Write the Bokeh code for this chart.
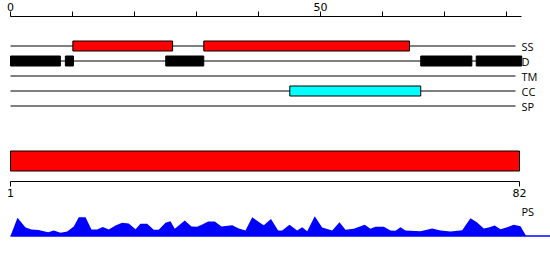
from bokeh.plotting import figure
from bokeh.models import Range1d, LinearAxis, FixedTicker
from bokeh.embed import file_html
from bokeh.resources import INLINE
from bokeh.core.properties import value

# ---------------- data ----------------
seq_len = 82
axis_ticks = [0, 10, 20, 30, 40, 50, 60, 70, 80]
axis_labelled = [0, 50]
seq_ticks = [1, 82]

track_names = ["SS", "D", "TM", "CC", "SP"]

ss_start = [11, 32]
ss_end = [27, 65]

d_start = [1, 9.8, 25.9, 66.8, 75.7]
d_end = [9, 11.1, 32, 75, 83]

cc_start = [45.8]
cc_end = [66.8]

ps_x = [1.0, 2.12, 3.41, 4.37, 5.49, 7.05, 7.94, 9.02, 10.09, 11.15, 11.95, 13.03,
        13.99, 14.9, 15.8, 16.77, 17.84, 18.91, 19.97, 21.05, 21.85, 22.92, 23.98,
        24.78, 25.86, 26.66, 27.35, 28.95, 30.03, 30.94, 31.75, 32.71, 33.77, 34.84,
        36.56, 37.62, 38.69, 39.77, 40.94, 41.63, 42.78, 43.93, 44.58, 45.75, 46.98,
        47.78, 48.59, 49.8, 50.99, 52.6, 53.77, 54.73, 56.06, 57.82, 58.74, 59.54,
        60.87, 61.95, 62.75, 63.55, 64.35, 66.76, 68.63, 69.97, 71.57, 73.45, 74.78,
        75.85, 76.91, 77.71, 78.67, 79.59, 80.66, 81.72, 82.8, 83.71]
ps_y = [0.0, 0.91, 0.43, 0.33, 0.30, 0.19, 0.28, 0.16, 0.23, 0.48, 0.94, 0.94,
        0.33, 0.33, 0.45, 0.33, 0.53, 0.66, 0.63, 0.34, 0.61, 0.61, 0.31,
        0.31, 0.66, 0.74, 0.36, 0.78, 0.48, 0.46, 0.58, 0.73, 0.73, 0.48,
        0.54, 0.38, 0.28, 0.94, 0.68, 0.54, 0.85, 0.28, 0.28, 0.56, 0.28,
        0.44, 0.24, 0.99, 0.43, 0.28, 0.69, 0.31, 0.36, 0.56, 0.36, 0.46,
        0.46, 0.28, 0.26, 0.44, 0.28, 0.24, 0.38, 0.28, 0.23, 0.29, 0.89,
        0.68, 0.38, 0.43, 0.53, 0.34, 0.44, 0.56, 0.49, 0.0]

# ---------------- layout ----------------
W, H = 550, 260
X0 = 10            # pixel of first position
AX_PX = 6.2        # px per unit, top ruler
SEQ_PX = 509 / 81  # px per unit, bottom ruler
TRK_PX = 505 / 81  # px per unit, feature tracks
track_y0, track_dy, half_h = 45.5, 15, 5
ruler_top_y = 15.5
bar_top, bar_bot = 150.5, 170.5
ruler_bot_y = 180.5
ps_base_px = 235.5
ps_scale = 20.0    # px per PS unit
ps_label_y = 211

p = figure(width=W, height=H,
           x_range=Range1d(-X0 / AX_PX, (W - X0) / AX_PX),
           y_range=Range1d(H, 0),
           x_axis_type=None, y_axis_type=None,
           toolbar_location=None, output_backend="svg",
           min_border=0, outline_line_color=None,
           background_fill_color="white", border_fill_color="white")
p.extra_x_ranges = {
    "seq": Range1d(1 - X0 / SEQ_PX, 1 + (W - X0) / SEQ_PX),
    "track": Range1d(1 - X0 / TRK_PX, 1 + (W - X0) / TRK_PX),
}
p.extra_y_ranges = {"ps": Range1d(-(H - ps_base_px) / ps_scale, ps_base_px / ps_scale)}

axis_style = dict(axis_line_color="black", axis_line_width=1,
                  major_tick_line_color="black", major_tick_in=0, major_tick_out=5,
                  minor_tick_in=0, minor_tick_out=0,
                  major_label_text_font="DejaVu Sans", major_label_text_font_size="11px",
                  major_label_text_color="black")

top_axis = LinearAxis(fixed_location=ruler_top_y,
                      ticker=FixedTicker(ticks=axis_ticks),
                      major_label_overrides={t: (str(t) if t in axis_labelled else "") for t in axis_ticks},
                      bounds=(0, 82.4), major_label_standoff=0,
                      major_label_text_align="left", **axis_style)
p.add_layout(top_axis, "above")

bot_axis = LinearAxis(x_range_name="seq", fixed_location=ruler_bot_y,
                      ticker=FixedTicker(ticks=seq_ticks),
                      bounds=(1, seq_len), major_label_standoff=3, **axis_style)
p.add_layout(bot_axis, "below")

# feature tracks
track_y = [track_y0 + i * track_dy for i in range(len(track_names))]
p.segment(x0=[1] * len(track_y), x1=[seq_len] * len(track_y), y0=track_y, y1=track_y,
          line_color="black", line_width=1, x_range_name="track")
p.text(x=[seq_len] * len(track_y), y=track_y, text=track_names, x_offset=6,
       text_align="left", text_baseline="middle", text_color="black",
       text_font=value("Open Sans"), text_font_size="11px", x_range_name="track")

ys = track_y[track_names.index("SS")]
p.quad(left=ss_start, right=ss_end, top=ys - half_h, bottom=ys + half_h,
       fill_color="red", line_color="black", line_width=1, x_range_name="track")
yd = track_y[track_names.index("D")]
p.quad(left=d_start, right=d_end, top=yd - half_h, bottom=yd + half_h,
       fill_color="black", line_color="black", line_width=1, x_range_name="track")
yc = track_y[track_names.index("CC")]
p.quad(left=cc_start, right=cc_end, top=yc - half_h, bottom=yc + half_h,
       fill_color="cyan", line_color="black", line_width=1, x_range_name="track")

# whole-sequence bar
p.quad(left=[1], right=[seq_len], top=[bar_top], bottom=[bar_bot],
       fill_color="red", line_color="black", line_width=1, x_range_name="seq")

# PS profile
p.varea(x=ps_x, y1=[0] * len(ps_x), y2=ps_y, fill_color="blue",
        x_range_name="track", y_range_name="ps")
p.segment(x0=[ps_x[0]], x1=[p.extra_x_ranges["track"].end], y0=[0], y1=[0],
          line_color="blue", line_width=1.5, x_range_name="track", y_range_name="ps")
p.text(x=[seq_len], y=[ps_label_y], text=["PS"], x_offset=6,
       text_align="left", text_baseline="middle", text_color="black",
       text_font=value("Open Sans"), text_font_size="11px", x_range_name="track")

open("out.html", "w").write(file_html(p, INLINE))
